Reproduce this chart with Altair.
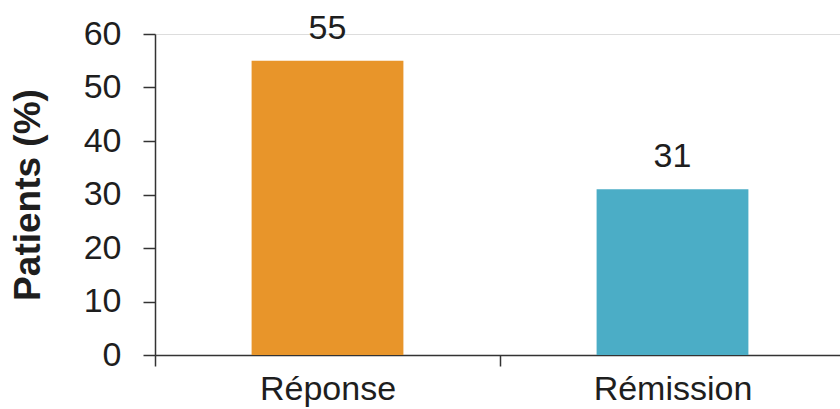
import altair as alt
import pandas as pd

# Share of patients reaching each outcome
categories = ["Réponse", "Rémission"]
values = [55, 31]
colors = ["#E8952A", "#4BADC6"]

df = pd.DataFrame({"cat": categories, "val": values, "color": colors})

FONT = "Liberation Sans"
TEXT = "#1e1e1e"
LINE = "#333333"

x_enc = alt.X(
    "cat:N",
    sort=categories,
    title=None,
    # band range runs slightly past the right edge so the last band tick falls outside
    scale=alt.Scale(paddingInner=0, paddingOuter=0, range=[0, 690]),
    axis=alt.Axis(
        labelAngle=0,
        labelFont=FONT,
        labelFontSize=34,
        labelColor=TEXT,
        labelPadding=6,
        tickBand="extent",
        tickSize=11,
        tickColor=LINE,
        tickWidth=1.5,
        domainColor=LINE,
        domainWidth=1.5,
        grid=False,
    ),
)

bars = alt.Chart(df).mark_bar(width=alt.RelativeBandSize(0.44)).encode(
    x=x_enc,
    y=alt.Y(
        "val:Q",
        scale=alt.Scale(domain=[0, 60], nice=False),
        title="Patients (%)",
        axis=alt.Axis(
            values=[0, 10, 20, 30, 40, 50, 60],
            grid=False,
            labelFont=FONT,
            labelFontSize=34,
            labelColor=TEXT,
            labelPadding=22,
            tickSize=12,
            tickColor=LINE,
            tickWidth=1.5,
            domainColor=LINE,
            domainWidth=1.5,
            titleFont=FONT,
            titleFontSize=37,
            titleFontWeight="bold",
            titleColor=TEXT,
            titlePadding=36,
        ),
    ),
    color=alt.Color("color:N", scale=None),
)

# Value printed above each bar
labels = alt.Chart(df).mark_text(
    font=FONT, fontSize=34, color=TEXT, baseline="alphabetic", dy=-22
).encode(
    x=alt.X("cat:N", sort=categories),
    y="val:Q",
    text="val:Q",
)

chart = (
    alt.layer(bars, labels)
    .properties(
        width=685,
        height=321,
        autosize=alt.AutoSizeParams(type="none"),
        padding={"left": 155, "top": 34, "right": 0, "bottom": 54},
    )
    .configure_axis(grid=False)
    .configure_view(stroke=None)
    .configure(background="white")
)

chart.save("out.html", embed_options={"renderer": "svg", "actions": False})
